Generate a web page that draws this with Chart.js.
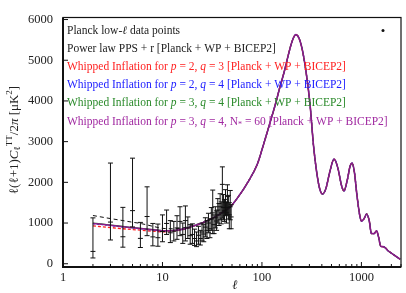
<!DOCTYPE html>
<html>
<head>
<meta charset="utf-8">
<script src="https://cdn.jsdelivr.net/npm/chart.js@4/dist/chart.umd.min.js"></script>
<style>
  body { margin: 0; background: #fff; }
</style>
</head>
<body>
<canvas id="clChart" width="406" height="293"></canvas>
<script>
// Planck low-l data points (l, D_l, lower end, upper end of error bar)
const dataEll = [2, 3, 4, 5, 6, 7, 8, 9, 10, 11, 12, 13, 14, 15, 16, 17, 18, 19, 20, 21, 22, 23, 24, 25,
                 26, 27, 28, 29, 30, 31, 32, 33, 34, 35, 36, 37, 38, 39, 40, 41, 42, 43, 44, 45, 46, 47, 48, 49];
const dataDl  = [303, 1024, 663, 1305, 623, 1160, 660, 640, 790, 990, 760, 800, 880, 1040, 720, 1060, 880, 690, 720, 620, 560, 700, 620, 780,
                 730, 900, 820, 1000, 860, 1100, 1250, 960, 1130, 1050, 1320, 1200, 1400, 1250, 1950, 1380, 1300, 1500, 1250, 1650, 1380, 1200, 1400, 1150];
const dataLo  = [142, 584, 407, 904, 399, 690, 440, 430, 540, 720, 520, 560, 600, 690, 500, 560, 620, 480, 500, 450, 420, 480, 460, 560,
                 540, 660, 620, 760, 640, 820, 740, 740, 880, 820, 1000, 940, 1080, 980, 1120, 1080, 1040, 1180, 1000, 1200, 1100, 860, 1080, 860];
const dataHi  = [1127, 2474, 1385, 2594, 1016, 1890, 990, 975, 1200, 1320, 1060, 1040, 1180, 1400, 1000, 1420, 1150, 960, 980, 850, 780, 920, 820, 1000,
                 960, 1130, 1060, 1240, 1100, 1380, 1810, 1200, 1400, 1300, 1600, 1480, 1720, 1520, 2380, 1700, 1580, 1820, 1520, 1940, 1680, 1500, 1800, 1450];

// model curves, low-l part (different per model)
const lowEll    = [2, 3, 4, 5, 6, 8, 10, 13, 16, 20, 25, 30];
const powerLaw  = [1185, 1110, 1060, 1020, 990, 920, 870, 860, 880, 940, 1010, 1090];
const wiRed     = [930, 890, 860, 840, 825, 800, 785, 800, 840, 915, 998, 1090];
const wiBlue    = [985, 940, 905, 880, 860, 830, 810, 815, 848, 918, 1000, 1090];
const wiGreen   = [1000, 950, 915, 890, 870, 840, 815, 820, 850, 920, 1000, 1090];
const wiPurple  = [990, 945, 910, 885, 865, 835, 812, 818, 850, 920, 1000, 1090];

// model curves, high-l part (common to all)
const highEll = [35, 40, 49, 60, 72, 90, 100, 120, 137, 150, 168, 185, 200, 219, 235, 255, 277, 304, 330, 355, 380, 406,
                 440, 480, 531, 580, 630, 667, 720, 770, 807, 850, 900, 960, 1000, 1060, 1130, 1200, 1260, 1340, 1420, 1490,
                 1560, 1650, 1750, 1850, 1950, 2030, 2200, 2450];
const highDl  = [1170, 1260, 1420, 1700, 2000, 2450, 2800, 3450, 3930, 4300, 4730, 5150, 5450, 5630, 5550, 5250, 4730, 3930, 2900, 2250, 1850, 1713,
                 1850, 2250, 2570, 2350, 1930, 1786, 2050, 2400, 2473, 2250, 1700, 1200, 1048, 1100, 1224, 1050, 743, 740, 808, 650,
                 430, 420, 385, 320, 280, 250, 190, 110];

const yTicks = [0, 1000, 2000, 3000, 4000, 5000, 6000];
const xLabels = [1, 10, 100, 1000];

const SERIF = "'Liberation Serif', 'DejaVu Serif', serif";

function curve(low) {
    const pts = low.map((v, i) => ({ x: lowEll[i], y: v }));
    return pts.concat(highDl.map((v, i) => ({ x: highEll[i], y: v })));
}

function lineSet(label, low, color, dash, order, width) {
    return {
        type: 'line',
        label: label,
        data: curve(low),
        borderColor: color,
        borderWidth: width,
        borderDash: dash,
        pointRadius: 0,
        fill: false,
        cubicInterpolationMode: 'monotone',
        order: order
    };
}

// error bars, tick marks, frame, axis titles and legend text
const extras = {
    id: 'extras',
    afterDatasetsDraw(chart) {
        const ctx = chart.ctx, xs = chart.scales.x, ys = chart.scales.y;
        ctx.save();
        ctx.strokeStyle = '#111';
        ctx.lineWidth = 1;
        dataEll.forEach((l, i) => {
            const x = xs.getPixelForValue(l);
            const y1 = ys.getPixelForValue(dataLo[i]);
            const y2 = ys.getPixelForValue(dataHi[i]);
            ctx.beginPath();
            ctx.moveTo(x, y1); ctx.lineTo(x, y2);
            ctx.moveTo(x - 2.5, y1); ctx.lineTo(x + 2.5, y1);
            ctx.moveTo(x - 2.5, y2); ctx.lineTo(x + 2.5, y2);
            ctx.stroke();
        });
        ctx.restore();
    },
    afterDraw(chart) {
        const ctx = chart.ctx, xs = chart.scales.x, ys = chart.scales.y, a = chart.chartArea;
        ctx.save();
        // frame
        ctx.strokeStyle = '#111';
        ctx.lineWidth = 1.2;
        ctx.strokeRect(a.left, a.top, a.right - a.left, a.bottom - a.top);
        ctx.lineWidth = 2;
        ctx.beginPath();
        ctx.moveTo(a.left, a.top); ctx.lineTo(a.left, a.bottom); ctx.lineTo(a.right, a.bottom);
        ctx.stroke();
        // inward ticks
        ctx.lineWidth = 1;
        ctx.beginPath();
        xs.ticks.forEach(t => {
            const lg = Math.log10(t.value);
            const major = Math.abs(lg - Math.round(lg)) < 1e-9;
            const x = xs.getPixelForValue(t.value);
            ctx.moveTo(x, a.bottom); ctx.lineTo(x, a.bottom - (major ? 5 : 3));
        });
        yTicks.forEach(v => {
            const y = ys.getPixelForValue(v);
            ctx.moveTo(a.left, y); ctx.lineTo(a.left + 5, y);
        });
        ctx.stroke();

        // x title
        ctx.fillStyle = '#222';
        ctx.font = 'italic 13px ' + SERIF;
        ctx.textAlign = 'center';
        ctx.textBaseline = 'middle';
        ctx.fillText('\u2113', 235, 286);

        // y title
        ctx.translate(15, 140);
        ctx.rotate(-Math.PI / 2);
        const parts = [
            ['\u2113(\u2113+1)', 13, 0, false],
            ['C', 13, 0, true],
            ['\u2113', 9, 3, false],
            ['TT', 9, -5, false],
            ['/2', 13, 0, false],
            ['\u03c0', 13, 0, true],
            [' [\u03bcK', 13, 0, false],
            ['2', 9, -5, false],
            [']', 13, 0, false]
        ];
        let total = 0;
        parts.forEach(p => {
            ctx.font = (p[3] ? 'italic ' : '') + p[1] + 'px ' + SERIF;
            total += ctx.measureText(p[0]).width;
        });
        let px = -total / 2;
        ctx.textAlign = 'left';
        parts.forEach(p => {
            ctx.font = (p[3] ? 'italic ' : '') + p[1] + 'px ' + SERIF;
            ctx.fillText(p[0], px, p[2]);
            px += ctx.measureText(p[0]).width;
        });
        ctx.setTransform(1, 0, 0, 1, 0, 0);

        // legend text
        const rows = [
            ['#222', [['Planck low-', 0], ['\u2113', 1], [' data points', 0]]],
            ['#222', [['Power law PPS + r [Planck + WP + BICEP2]', 0]]],
            ['#ff2020', [['Whipped Inflation for ', 0], ['p', 1], [' = 2, ', 0], ['q', 1], [' = 3 [Planck + WP + BICEP2]', 0]]],
            ['#2020ff', [['Whipped Inflation for ', 0], ['p', 1], [' = 2, ', 0], ['q', 1], [' = 4 [Planck + WP + BICEP2]', 0]]],
            ['#2a8a2a', [['Whipped Inflation for ', 0], ['p', 1], [' = 3, ', 0], ['q', 1], [' = 4 [Planck + WP + BICEP2]', 0]]],
            ['#a028a0', [['Whipped Inflation for ', 0], ['p', 1], [' = 3, ', 0], ['q', 1], [' = 4, N', 0], ['*', 2], [' = 60 [Planck + WP + BICEP2]', 0]]]
        ];
        ctx.textBaseline = 'middle';
        rows.forEach((r, i) => {
            let x = a.left + 4;
            const y = a.top + 13 + i * 18.2;
            ctx.fillStyle = r[0];
            r[1].forEach(s => {
                if (s[1] === 2) {
                    ctx.font = '8px ' + SERIF;
                    ctx.fillText(s[0], x, y + 3);
                } else {
                    ctx.font = (s[1] ? 'italic ' : '') + '11.5px ' + SERIF;
                    ctx.fillText(s[0], x, y);
                }
                x += ctx.measureText(s[0]).width;
            });
        });
        // data point marker in legend
        ctx.fillStyle = '#111';
        ctx.beginPath();
        ctx.arc(a.right - 18, a.top + 13, 1.5, 0, Math.PI * 2);
        ctx.fill();
        ctx.restore();
    }
};

const pointData = dataEll.map((l, i) => ({ x: l, y: dataDl[i] }));

const config = {
    type: 'line',
    data: {
        datasets: [
            {
                type: 'scatter',
                label: 'Planck low-l data points',
                data: pointData,
                pointStyle: 'line',
                pointRadius: 2.5,
                borderColor: '#111',
                borderWidth: 1,
                order: 0
            },
            lineSet('WI p=3 q=4 N=60', wiPurple, '#8a1a8a', [], 1, 1.6),
            lineSet('WI p=3 q=4', wiGreen, '#2a8a2a', [], 2, 1.3),
            lineSet('WI p=2 q=4', wiBlue, '#2020ff', [2, 2], 3, 1.3),
            lineSet('WI p=2 q=3', wiRed, '#ff2020', [3, 2], 4, 1.3),
            lineSet('Power law', powerLaw, '#111', [4, 3], 5, 1)
        ]
    },
    options: {
        responsive: false,
        animation: false,
        devicePixelRatio: 1,
        layout: { padding: { top: 12, right: 1, left: 0, bottom: 0 } },
        plugins: { legend: { display: false }, tooltip: { enabled: false } },
        scales: {
            x: {
                type: 'logarithmic',
                min: 1,
                max: 2500,
                grid: { display: false, drawTicks: false },
                border: { display: false },
                afterFit: s => { s.height = 26; },
                ticks: {
                    autoSkip: false,
                    maxRotation: 0,
                    padding: 3,
                    color: '#222',
                    font: { family: SERIF, size: 12.5 },
                    callback: v => xLabels.includes(v) ? String(v) : ''
                }
            },
            y: {
                min: -80,
                max: 6050,
                grid: { display: false, drawTicks: false },
                border: { display: false },
                afterFit: s => { s.width = 63; },
                afterBuildTicks: s => { s.ticks = yTicks.map(v => ({ value: v })); },
                ticks: {
                    padding: 10,
                    color: '#222',
                    font: { family: SERIF, size: 12.5 },
                    callback: v => String(v)
                }
            }
        }
    },
    plugins: [extras]
};

var ctx = document.getElementById('clChart').getContext('2d');
new Chart(ctx, config);
</script>
</body>
</html>
